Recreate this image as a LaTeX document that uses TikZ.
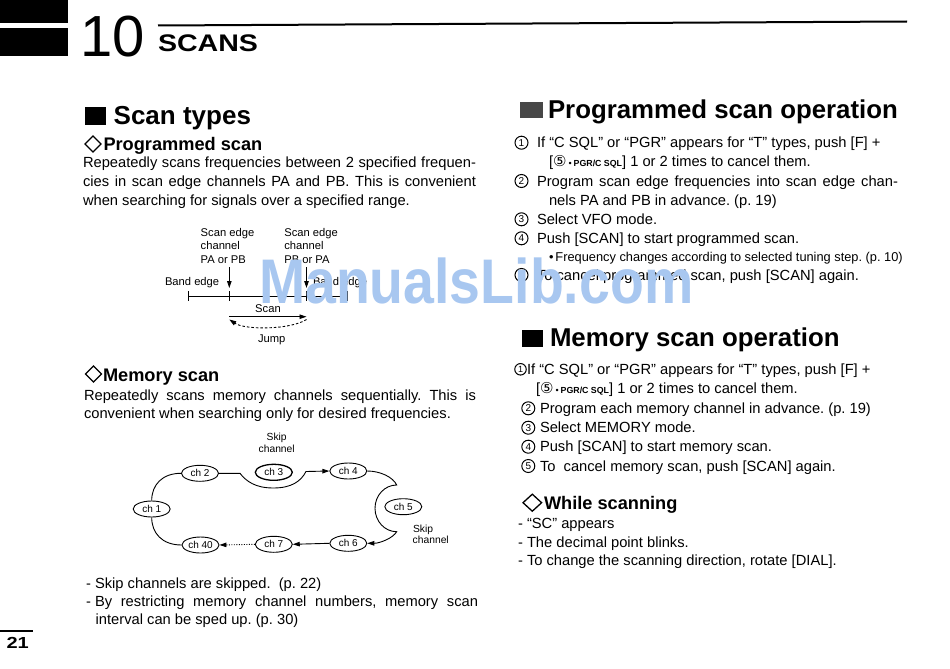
\documentclass[tikz,border=0pt]{standalone}
\usepackage{fontspec}
\setmainfont{Liberation Sans}
\newfontfamily\dejavu{DejaVu Sans}
\usetikzlibrary{arrows.meta,shapes.geometric}
\newcommand\fsz[1]{\fontsize{#1}{#1}\selectfont}
\newcommand\jline[2]{\makebox[#1][s]{#2}}
\definecolor{wmblue}{RGB}{168,199,240}
\AtBeginDocument{\frenchspacing}
\begin{document}
\begin{tikzpicture}[x=1pt,y=-1pt,
 txt/.style={anchor=base west,inner sep=0pt,outer sep=0pt},
 bodytxt/.style={txt,font=\fsz{14.7}},
 subtxt/.style={txt,font=\fsz{12.8}},
 headA/.style={txt,font=\fsz{26}\bfseries},
 headB/.style={txt,font=\fsz{18.2}\bfseries},
 headR/.style={txt,font=\fsz{25.8}\bfseries},
 dlab/.style={txt,font=\fsz{11.2}},
 mlab/.style={anchor=base,inner sep=0pt,outer sep=0pt,font=\fsz{10.3}},
 chn/.style={ellipse,draw,line width=0.9pt,minimum width=37pt,minimum height=16pt,inner sep=0pt,fill=white,font=\fsz{10}},
 cnum/.style={circle,draw=black,line width=1pt,minimum size=13pt,inner sep=0pt,font=\fsz{10}},
 arr/.style={line width=0.9pt,-{Triangle[length=7pt,width=4.5pt]}},
 thinln/.style={line width=0.9pt},
 dia/.style={line width=1.3pt,line join=miter}
]
\fill[white] (0,0) rectangle (950,669);
\useasboundingbox (0,0) rectangle (950,669);

% ---------- header ----------
\fill (0,0) rectangle (68,23);
\fill (0,28) rectangle (68,56);
\node[txt,font=\fsz{58}] (chapnum) at (80.7,57) {10};
\node[txt,font=\fsz{24}\bfseries,xscale=1.19] (chaptitle) at (158,52) {SCANS};
\coordinate (hl1) at (158,25.5);
\coordinate (hl2) at (907,21.5);
\draw[line width=2pt] (hl1) -- (hl2);

% ---------- left column ----------
\fill (85,107) rectangle (106,125);
\node[headA] (hScan) at (113.7,124) {Scan types};

\draw[dia] (85,144) -- (93,136) -- (101,144) -- (93,152) -- cycle;
\node[headB] (hProg) at (103.5,150.5) {Programmed scan};
\node[bodytxt] (p1a) at (83,167.5) {\jline{393pt}{Repeatedly scans frequencies between 2 specified frequen-}};
\node[bodytxt] (p1b) at (83,186.5) {\jline{393pt}{cies in scan edge channels PA and PB. This is convenient}};
\node[bodytxt] (p1c) at (83,205.5) {when searching for signals over a specified range.};

% programmed scan diagram
\node[dlab] (ea1) at (200.7,236) {Scan edge};
\node[dlab] (ea2) at (200.7,249.5) {channel};
\node[dlab] (ea3) at (200.7,263) {PA or PB};
\node[dlab] (eb1) at (284.3,236) {Scan edge};
\node[dlab] (eb2) at (284.3,249.5) {channel};
\node[dlab] (eb3) at (284.3,263) {PB or PA};
\node[dlab] (bandL) at (165,285) {Band edge};
\node[dlab] (bandR) at (313,285) {Band edge};
\coordinate (paT) at (229.3,267);
\coordinate (paB) at (229.3,288);
\coordinate (pbT) at (306.5,267);
\coordinate (pbB) at (306.5,288);
\draw[arr] (paT) -- (paB);
\draw[arr] (pbT) -- (pbB);
\coordinate (be1) at (188,296);
\coordinate (be2) at (347,296);
\draw[thinln] (be1) -- (be2);
\draw[thinln] (188,291) -- (188,301);
\draw[thinln] (229.3,291) -- (229.3,301);
\draw[thinln] (306.5,291) -- (306.5,301);
\draw[thinln] (347,291) -- (347,301);
\node[anchor=base,inner sep=0pt,font=\fsz{11.2}] (scanlbl) at (268,312) {Scan};
\coordinate (sA) at (229.3,316.7);
\coordinate (sB) at (306.5,316.7);
\draw[arr] (sA) -- (sB);
\coordinate (jA) at (229.3,319.5);
\coordinate (jB) at (306.5,319.5);
\draw[arr,dash pattern=on 2.5pt off 2pt] (jB) .. controls (290,330) and (245,330) .. (jA);
\node[anchor=base,inner sep=0pt,font=\fsz{11.2}] (jumplbl) at (271.7,342) {Jump};

% memory scan
\draw[dia] (85.5,374) -- (93.5,366) -- (101.5,374) -- (93.5,382) -- cycle;
\node[headB] (hMem) at (103,381) {Memory scan};
\node[bodytxt] (p2a) at (84,400) {\jline{392pt}{Repeatedly scans memory channels sequentially. This is}};
\node[bodytxt] (p2b) at (84,418) {convenient when searching only for desired frequencies.};

% memory diagram
\node[mlab] (skip1a) at (276.7,440) {Skip};
\node[mlab] (skip1b) at (276.7,452) {channel};
\node[txt,font=\fsz{10.3}] (skip2a) at (413,532.3) {Skip};
\node[txt,font=\fsz{10.3}] (skip2b) at (412.7,543.5) {channel};

\node[chn] (c1) at (151.7,509) {ch 1};
\node[chn] (c2) at (200,473.3) {ch 2};
\node[chn,line width=1.3pt] (c3) at (273.8,472.3) {ch 3};
\node[chn] (c4) at (348.3,471) {ch 4};
\node[chn] (c5) at (403.3,506.7) {ch 5};
\node[chn] (c40) at (200.5,545) {ch 40};
\node[chn] (c7) at (273.8,544.3) {ch 7};
\node[chn] (c6) at (348.3,543.3) {ch 6};

\draw[thinln] (c1.north) .. controls (151.7,485) and (162,473.3) .. (c2.west);
\draw[thinln] (c40.west) .. controls (162,545) and (151.7,533) .. (c1.south);
\draw[arr] (c2.east) -- (240,473.3) .. controls (246,481) and (255,488) .. (273.3,488)
   .. controls (292,488) and (301,481) .. (306,471.5) -- (c4.west);
\draw[arr] (c4.east) .. controls (380,471) and (393,477) .. (396.7,485)
   .. controls (384.7,485) and (375,495.4) .. (375,508.3)
   .. controls (375,521.2) and (384.7,531.7) .. (396.7,531.7)
   .. controls (393,538) and (380,543.3) .. (c6.east);
\draw[arr] (c6.west) -- (c7.east);
\draw[arr,dash pattern=on 1pt off 1.5pt] (c7.west) -- (c40.east);

% bottom notes
\node[bodytxt] (d1) at (86,588) {-};
\node[bodytxt] (n1) at (95,588) {Skip channels are skipped.\ \ (p. 22)};
\node[bodytxt] (d2) at (86,606) {-};
\node[bodytxt] (n2) at (95,606) {\jline{383pt}{By restricting memory channel numbers, memory scan}};
\node[bodytxt] (n3) at (95.7,624) {interval can be sped up. (p. 30)};

% page number
\coordinate (pn1) at (0,631);
\coordinate (pn2) at (33,631);
\draw[line width=1.2pt] (pn1) -- (pn2);
\node[txt,font=\fsz{16}\bfseries,xscale=1.25] (pgnum) at (6.5,648) {21};

% ---------- right column ----------
\fill[black!72] (520,101.7) rectangle (542.7,117.5);
\node[headR] (hPO) at (548,118) {Programmed scan operation};

\node[cnum] (r1) at (521.5,142.7) {1};
\node[bodytxt] (r1t) at (537,147.7) {If “C SQL” or “PGR” appears for “T” types, push [F] +};
\node[bodytxt] (r1u) at (549,166.7) {[{\dejavu\fsz{15}⑤}\hspace{2pt}{\fsz{9}•}\hspace{2pt}{\fsz{8.8}\bfseries PGR/C SQL}] 1 or 2 times to cancel them.};
\node[cnum] (r2) at (521.5,181) {2};
\node[bodytxt] (r2t) at (537,186) {\jline{361pt}{Program scan edge frequencies into scan edge chan-}};
\node[bodytxt] (r2u) at (549,205) {nels PA and PB in advance. (p. 19)};
\node[cnum] (r3) at (521.5,219.3) {3};
\node[bodytxt] (r3t) at (537,224.3) {Select VFO mode.};
\node[cnum] (r4) at (521.5,238.3) {4};
\node[bodytxt] (r4t) at (537,243.3) {Push [SCAN] to start programmed scan.};
\node[subtxt] (r4u) at (549,261.7) {•\hspace{2pt}Frequency changes according to selected tuning step. (p. 10)};
\node[cnum] (r5) at (521.5,275) {5};
\node[bodytxt] (r5t) at (537,280) {To cancel programmed scan, push [SCAN] again.};

\fill (521.7,330) rectangle (543.3,346.7);
\node[headR] (hMO) at (550,346.7) {Memory scan operation};

\node[cnum,minimum size=11.5pt,font=\fsz{9}] (m1) at (520.5,369.3) {1};
\node[bodytxt] (m1t) at (527,374.3) {If “C SQL” or “PGR” appears for “T” types, push [F] +};
\node[bodytxt] (m1u) at (536,393.3) {[{\dejavu\fsz{15}⑤}\hspace{2pt}{\fsz{9}•}\hspace{2pt}{\fsz{8.8}\bfseries PGR/C SQL}] 1 or 2 times to cancel them.};
\node[cnum] (m2) at (528.3,408.3) {2};
\node[bodytxt] (m2t) at (540,413.3) {Program each memory channel in advance. (p. 19)};
\node[cnum] (m3) at (528.3,427.7) {3};
\node[bodytxt] (m3t) at (540,432.7) {Select MEMORY mode.};
\node[cnum] (m4) at (528.3,446.7) {4};
\node[bodytxt] (m4t) at (540,451.7) {Push [SCAN] to start memory scan.};
\node[cnum] (m5) at (528.3,466) {5};
\node[bodytxt] (m5t) at (540,471) {To\ \ cancel memory scan, push [SCAN] again.};

\draw[dia] (523,502.7) -- (532.3,494.2) -- (541.6,502.7) -- (532.3,511.2) -- cycle;
\node[headB] (hWS) at (544,509) {While scanning};
\node[bodytxt] (w1d) at (518,528.3) {-};
\node[bodytxt] (w1) at (527,528.3) {“SC” appears};
\node[bodytxt] (w2d) at (518,547.7) {-};
\node[bodytxt] (w2) at (527,547.7) {The decimal point blinks.};
\node[bodytxt] (w3d) at (518,565.7) {-};
\node[bodytxt] (w3) at (527,565.7) {To change the scanning direction, rotate [DIAL].};

% watermark
\node[txt,font=\fsz{63}\bfseries,text=wmblue,xscale=0.88] (wm) at (259,303) {ManualsLib.com};
\end{tikzpicture}
\end{document}
